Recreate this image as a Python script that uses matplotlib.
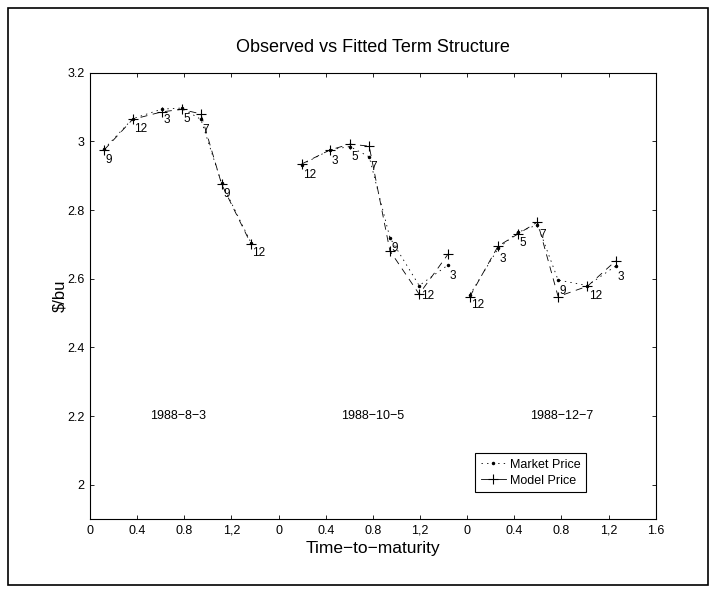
import numpy as np
import matplotlib
matplotlib.use('Agg')
from matplotlib import pyplot as plt
from matplotlib.lines import Line2D
from matplotlib.patches import Rectangle

plt.rcParams['font.family'] = ['Liberation Sans', 'DejaVu Sans']
plt.rcParams['lines.scale_dashes'] = False

# contract dates (one block per observation date)
dates = ['1988\u22128\u22123', '1988\u221210\u22125', '1988\u221212\u22127']
# x offset of each block on the shared axis
offsets = [0.0, 1.6, 3.2]

# time-to-maturity of each contract in the block
ttm_1 = [0.12, 0.362, 0.61, 0.777, 0.941, 1.117, 1.366]
ttm_2 = [0.196, 0.436, 0.605, 0.769, 0.945, 1.193, 1.439]
ttm_3 = [0.023, 0.263, 0.43, 0.597, 0.772, 1.021, 1.261]

# delivery month labels
months_1 = ['9', '12', '3', '5', '7', '9', '12']
months_2 = ['12', '3', '5', '7', '9', '12', '3']
months_3 = ['12', '3', '5', '7', '9', '12', '3']

# observed futures prices
market_1 = [2.978, 3.066, 3.094, 3.097, 3.064, 2.878, 2.705]
market_2 = [2.932, 2.975, 2.985, 2.955, 2.719, 2.580, 2.640]
market_3 = [2.553, 2.688, 2.735, 2.757, 2.596, 2.580, 2.637]

# fitted model prices
model_1 = [2.975, 3.064, 3.086, 3.093, 3.080, 2.875, 2.701]
model_2 = [2.934, 2.975, 2.992, 2.986, 2.681, 2.555, 2.672]
model_3 = [2.548, 2.695, 2.730, 2.765, 2.548, 2.578, 2.652]

xticks = np.arange(0, 4.81, 0.4)
xticklabels = ['0', '0.4', '0.8', '1,2', '0', '0.4', '0.8', '1,2',
               '0', '0.4', '0.8', '1,2', '1.6']
yticks = [2, 2.2, 2.4, 2.6, 2.8, 3, 3.2]

fig = plt.figure(figsize=(7.09, 5.90), dpi=100)
ax = fig.add_axes([0.12694, 0.12034, 0.79788, 0.75644])

blocks = [(ttm_1, months_1, market_1, model_1),
          (ttm_2, months_2, market_2, model_2),
          (ttm_3, months_3, market_3, model_3)]

for off, (t, m, mk, md) in zip(offsets, blocks):
    x = off + np.array(t)
    ax.plot(x, mk, color='k', linewidth=0.6, dashes=(1, 3), marker='.',
            markersize=3)
    ax.plot(x, md, color='k', linewidth=0.6, dashes=(5, 4), marker='+',
            markersize=7, markeredgewidth=0.8)
    for xi, yi, lab in zip(x, mk, m):
        ax.text(xi + 0.012, yi - 0.031, lab, fontsize=8.5, ha='left', va='center')

date_x = [0.51, 2.13, 3.73]
for dx, d in zip(date_x, dates):
    ax.text(dx, 2.2, d, fontsize=9, ha='left', va='center')

ax.set_xlim(0, 4.8)
ax.set_ylim(1.9, 3.2)
ax.set_xticks(xticks)
ax.set_xticklabels(xticklabels)
ax.set_yticks(yticks)
ax.set_yticklabels(['2', '2.2', '2.4', '2.6', '2.8', '3', '3.2'])
ax.tick_params(direction='in', length=3, width=0.6, top=True, right=True,
               labelsize=9, pad=4)
for s in ax.spines.values():
    s.set_linewidth(0.8)

ax.set_xlabel('Time\u2212to\u2212maturity', fontsize=12.5, va='center')
ax.xaxis.set_label_coords(0.5, -0.065)
ax.set_ylabel('$/bu', fontsize=12, va='center')
ax.yaxis.set_label_coords(-0.054, 0.5)

fig.text(0.526, 1 - 47 / 590, 'Observed vs Fitted Term Structure',
         fontsize=13, ha='center', va='center')

handles = [Line2D([], [], color='k', linewidth=0.6, dashes=(1, 3),
                  marker='.', markersize=3),
           Line2D([], [], linestyle='-', color='k', linewidth=0.6,
                  marker='+', markersize=7, markeredgewidth=0.8)]
leg = ax.legend(handles, ['Market Price', 'Model Price'], loc='lower left',
                bbox_to_anchor=(0.681, 0.06), borderaxespad=0, fontsize=9,
                handlelength=2.0, handletextpad=0.3, borderpad=0.45,
                labelspacing=0.3, fancybox=False, framealpha=1)
leg.get_frame().set_edgecolor('k')
leg.get_frame().set_linewidth(0.8)

# outer frame round the whole figure
fig.patches.append(Rectangle((8 / 709, 5 / 590), 700 / 709, 577 / 590,
                             transform=fig.transFigure, fill=False,
                             edgecolor='k', linewidth=1.2))

fig.savefig('out.png', dpi=100)
